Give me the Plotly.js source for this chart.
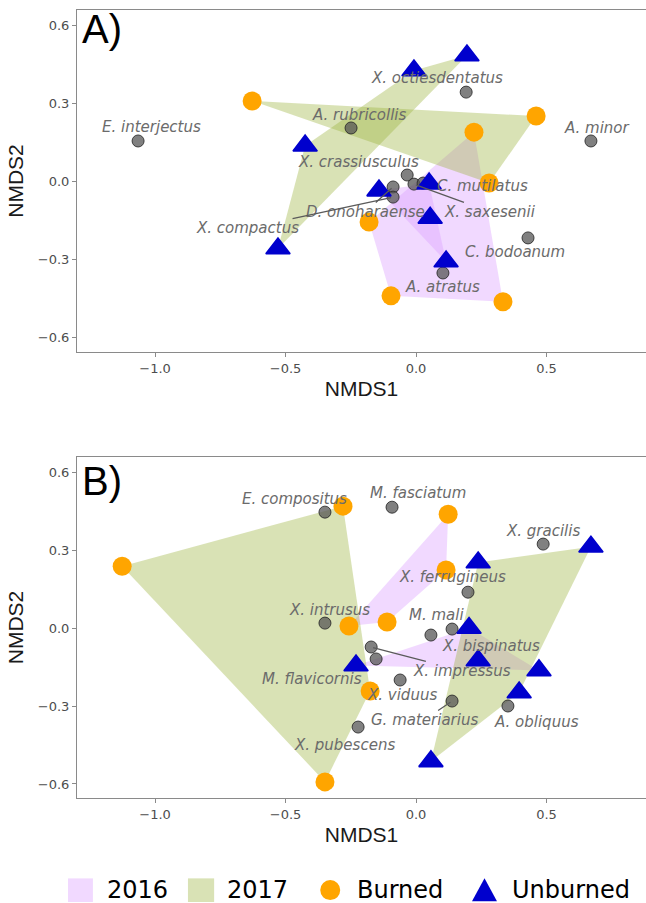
<!DOCTYPE html>
<html><head><meta charset="utf-8">
<script src="https://cdn.plot.ly/plotly-3.0.1.min.js"></script>
<style>html,body{margin:0;padding:0;background:#fff}#chart{width:646px;height:903px}</style>
</head><body><div id="chart"></div>
<script>
// ---------- Panel A data ----------
const A_burned2016_x   = [0.222, -0.180, -0.096, 0.333];
const A_burned2016_y   = [0.190, -0.156, -0.440, -0.463];
const A_burned2017_x   = [-0.628, 0.460, 0.280];
const A_burned2017_y   = [0.310, 0.252, -0.006];
const A_unburned2016_x = [-0.142, 0.050, 0.054, 0.115];
const A_unburned2016_y = [-0.035, -0.008, -0.140, -0.308];
const A_unburned2017_x = [-0.425, -0.008, 0.195, -0.529];
const A_unburned2017_y = [0.138, 0.427, 0.485, -0.258];

const A_species   = ["E. interjectus","A. rubricollis","X. octiesdentatus","A. minor","X. crassiusculus",
                     "D. onoharaense","X. compactus","X. saxesenii","C. mutilatus","C. bodoanum","A. atratus"];
const A_species_x = [-1.065, -0.249, 0.192, 0.670, -0.034, -0.088, -0.088, -0.008, 0.027, 0.429, 0.103];
const A_species_y = [0.156, 0.206, 0.344, 0.156, 0.025, -0.021, -0.060, -0.010, -0.006, -0.217, -0.352];
const A_label_x   = [-1.015, -0.215, 0.080, 0.693, -0.222, -0.195, -0.644, 0.283, 0.253, 0.379, 0.103];
const A_label_y   = [0.210, 0.256, 0.398, 0.206, 0.075, -0.117, -0.179, -0.117, -0.017, -0.271, -0.406];
const A_leader    = [false,false,false,false,false,true,true,true,false,false,false];

// ---------- Panel B data ----------
const B_burned2016_x   = [0.123, 0.115, -0.111, -0.257];
const B_burned2016_y   = [0.438, 0.223, 0.023, 0.008];
const B_burned2017_x   = [-1.126, -0.280, -0.176, -0.349];
const B_burned2017_y   = [0.238, 0.469, -0.242, -0.592];
const B_unburned2016_x = [-0.230, 0.203, 0.471, 0.238];
const B_unburned2016_y = [-0.144, 0.000, -0.163, -0.125];
const B_unburned2017_x = [0.238, 0.670, 0.395, 0.057];
const B_unburned2017_y = [0.252, 0.313, -0.248, -0.513];

const B_species   = ["E. compositus","M. fasciatum","X. gracilis","X. ferrugineus","X. intrusus","M. mali",
                     "X. bispinatus","X. impressus","M. flavicornis","X. viduus","G. materiarius","A. obliquus","X. pubescens"];
const B_species_x = [-0.349, -0.092, 0.487, 0.199, -0.349, 0.057, 0.138, -0.172, -0.153, -0.061, 0.138, 0.352, -0.222];
const B_species_y = [0.446, 0.465, 0.323, 0.138, 0.019, -0.027, -0.004, -0.073, -0.119, -0.200, -0.281, -0.300, -0.381];
const B_label_x   = [-0.467, 0.008, 0.487, 0.138, -0.333, 0.077, 0.287, 0.176, -0.398, -0.054, 0.031, 0.460, -0.276];
const B_label_y   = [0.496, 0.519, 0.373, 0.196, 0.069, 0.050, -0.069, -0.165, -0.196, -0.258, -0.354, -0.362, -0.450];
const B_leader    = [false,false,false,false,false,false,false,true,false,false,true,false,false];

const xTicks = [-1.0, -0.5, 0.0, 0.5];
const yTicks = [-0.6, -0.3, 0.0, 0.3, 0.6];

// ---------- styles ----------
const FILL16 = 'rgba(221,160,255,0.40)';
const FILL17 = 'rgba(154,180,60,0.38)';
const ORANGE = '#FFA500';
const BLUE = '#0000CD';

function hull(xs, ys) {
  const pts = xs.map((x, i) => [x, ys[i]]).sort((a, b) => a[0] - b[0] || a[1] - b[1]);
  if (pts.length < 3) return pts;
  const cross = (o, a, b) => (a[0]-o[0])*(b[1]-o[1]) - (a[1]-o[1])*(b[0]-o[0]);
  const lower = [], upper = [];
  for (const p of pts) { while (lower.length >= 2 && cross(lower[lower.length-2], lower[lower.length-1], p) <= 0) lower.pop(); lower.push(p); }
  for (let i = pts.length - 1; i >= 0; i--) { const p = pts[i]; while (upper.length >= 2 && cross(upper[upper.length-2], upper[upper.length-1], p) <= 0) upper.pop(); upper.push(p); }
  upper.pop(); lower.pop();
  return lower.concat(upper);
}
function hullTrace(xs, ys, fill, xa, ya) {
  const h = hull(xs, ys);
  return { type: 'scatter', mode: 'lines', x: h.map(p => p[0]), y: h.map(p => p[1]), fill: 'toself',
           fillcolor: fill, line: { width: 0, color: 'rgba(0,0,0,0)' }, hoverinfo: 'skip', showlegend: false, xaxis: xa, yaxis: ya };
}
function speciesTrace(xs, ys, xa, ya) {
  return { type: 'scatter', mode: 'markers', x: xs, y: ys, xaxis: xa, yaxis: ya, showlegend: false,
           marker: { size: 12, color: 'rgba(85,85,85,0.75)', line: { color: 'rgba(40,40,40,0.85)', width: 1 } } };
}
function burnedTrace(xs, ys, xa, ya) {
  return { type: 'scatter', mode: 'markers', x: xs, y: ys, xaxis: xa, yaxis: ya, showlegend: false,
           marker: { size: 19, color: ORANGE, line: { width: 0 } } };
}
function unburnedTrace(xs, ys, xa, ya) {
  return { type: 'scatter', mode: 'markers', x: xs, y: ys, xaxis: xa, yaxis: ya, showlegend: false,
           marker: { symbol: 'triangle-up', size: 21, color: BLUE, line: { color: BLUE, width: 1.6 } } };
}

const traces = [
  hullTrace(A_burned2016_x, A_burned2016_y, FILL16, 'x', 'y'),
  hullTrace(A_unburned2016_x, A_unburned2016_y, FILL16, 'x', 'y'),
  hullTrace(A_burned2017_x, A_burned2017_y, FILL17, 'x', 'y'),
  hullTrace(A_unburned2017_x, A_unburned2017_y, FILL17, 'x', 'y'),
  hullTrace(B_burned2016_x, B_burned2016_y, FILL16, 'x2', 'y2'),
  hullTrace(B_unburned2016_x, B_unburned2016_y, FILL16, 'x2', 'y2'),
  hullTrace(B_burned2017_x, B_burned2017_y, FILL17, 'x2', 'y2'),
  hullTrace(B_unburned2017_x, B_unburned2017_y, FILL17, 'x2', 'y2'),
  speciesTrace(A_species_x, A_species_y, 'x', 'y'),
  speciesTrace(B_species_x, B_species_y, 'x2', 'y2'),
  burnedTrace(A_burned2016_x.concat(A_burned2017_x), A_burned2016_y.concat(A_burned2017_y), 'x', 'y'),
  burnedTrace(B_burned2016_x.concat(B_burned2017_x), B_burned2016_y.concat(B_burned2017_y), 'x2', 'y2'),
  unburnedTrace(A_unburned2016_x.concat(A_unburned2017_x), A_unburned2016_y.concat(A_unburned2017_y), 'x', 'y'),
  unburnedTrace(B_unburned2016_x.concat(B_unburned2017_x), B_unburned2016_y.concat(B_unburned2017_y), 'x2', 'y2')
];

const labelFont = { family: 'DejaVu Sans', size: 15, color: '#6b6b6b', style: 'italic' };
const annotations = [];
function addLabels(names, px, py, lx, ly, leader, xr, yr) {
  names.forEach((n, i) => {
    if (leader[i]) {
      annotations.push({ text: n, x: px[i], y: py[i], ax: lx[i], ay: ly[i], xref: xr, yref: yr, axref: xr, ayref: yr,
        showarrow: true, arrowhead: 0, arrowwidth: 1.3, arrowcolor: '#5a5a5a', standoff: 2, startstandoff: 0,
        font: labelFont, borderpad: 0 });
    } else {
      annotations.push({ text: n, x: lx[i], y: ly[i], xref: xr, yref: yr, showarrow: false, font: labelFont,
        xanchor: 'center', yanchor: 'middle', borderpad: 0 });
    }
  });
}
addLabels(A_species, A_species_x, A_species_y, A_label_x, A_label_y, A_leader, 'x', 'y');
addLabels(B_species, B_species_x, B_species_y, B_label_x, B_label_y, B_leader, 'x2', 'y2');

// panel tags
annotations.push({ text: 'A)', xref: 'x domain', yref: 'y domain', x: 0.005, y: 1.015, xanchor: 'left', yanchor: 'top',
  showarrow: false, font: { family: 'Liberation Sans', size: 40, color: '#000' } });
annotations.push({ text: 'B)', xref: 'x2 domain', yref: 'y2 domain', x: 0.005, y: 1.0, xanchor: 'left', yanchor: 'top',
  showarrow: false, font: { family: 'Liberation Sans', size: 40, color: '#000' } });

// manual legend (paper coords: x=(px-77)/569, y=(798-py)/788)
const legFont = { family: 'DejaVu Sans', size: 24, color: '#000' };
const legY = -0.1168;
const legendItems = [['2016', 0.049], ['2017', 0.260], ['Burned', 0.489], ['Unburned', 0.761]];
legendItems.forEach(([t, x]) => annotations.push({ text: t, xref: 'paper', yref: 'paper', x: x, y: legY,
  xanchor: 'left', yanchor: 'middle', showarrow: false, font: legFont }));

const shapes = [
  { type: 'rect', xref: 'paper', yref: 'paper', x0: -0.0158, x1: 0.028, y0: -0.132, y1: -0.102, fillcolor: FILL16, line: { width: 0 } },
  { type: 'rect', xref: 'paper', yref: 'paper', x0: 0.195, x1: 0.241, y0: -0.132, y1: -0.102, fillcolor: FILL17, line: { width: 0 } },
  { type: 'circle', xref: 'paper', yref: 'paper', x0: 0.4275, x1: 0.4626, y0: -0.1296, y1: -0.1042, fillcolor: ORANGE, line: { width: 0 } },
  { type: 'path', xref: 'paper', yref: 'paper', path: 'M 0.6942 -0.1310 L 0.7381 -0.1310 L 0.7162 -0.1018 Z', fillcolor: BLUE, line: { width: 0 } }
];

function xax(anchor) {
  return { anchor: anchor, domain: [0, 1], range: [-1.299, 0.881], showgrid: false, zeroline: false,
    showline: true, mirror: true, linecolor: '#8a8a8a', linewidth: 1, ticks: 'outside', ticklen: 4, tickcolor: '#8a8a8a',
    tickvals: xTicks, tickformat: '.1f', tickfont: { family: 'DejaVu Sans', size: 13, color: '#4d4d4d' },
    title: { text: 'NMDS1', font: { family: 'Liberation Sans', size: 21, color: '#1a1a1a' }, standoff: 6 } };
}
function yax(anchor, domain, range) {
  return { anchor: anchor, domain: domain, range: range, showgrid: false, zeroline: false,
    showline: true, mirror: true, linecolor: '#8a8a8a', linewidth: 1, ticks: 'outside', ticklen: 4, tickcolor: '#8a8a8a',
    tickvals: yTicks, tickformat: '.1f', tickfont: { family: 'DejaVu Sans', size: 13, color: '#4d4d4d' },
    title: { text: 'NMDS2', font: { family: 'Liberation Sans', size: 21, color: '#1a1a1a' }, standoff: 8 } };
}

const layout = {
  width: 646, height: 903, paper_bgcolor: '#fff', plot_bgcolor: '#fff', showlegend: false,
  margin: { l: 77, r: 0, t: 10, b: 105 },
  xaxis: xax('y'), yaxis: yax('x', [0.566, 1], [-0.656, 0.66]),
  xaxis2: xax('y2'), yaxis2: yax('x2', [0, 0.4327], [-0.654, 0.658]),
  annotations: annotations, shapes: shapes
};

Plotly.newPlot('chart', traces, layout, { staticPlot: true, displayModeBar: false });
</script></body></html>
